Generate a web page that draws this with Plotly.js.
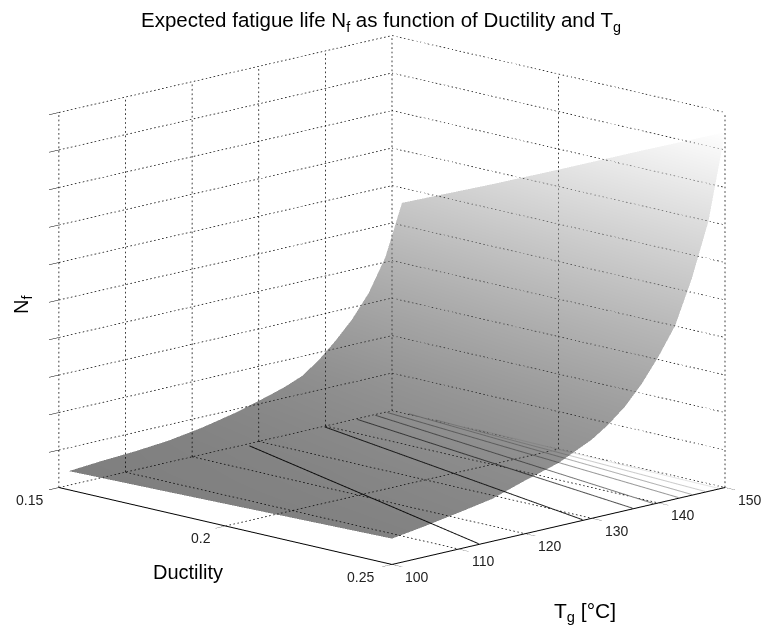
<!DOCTYPE html>
<html>
<head>
<meta charset="utf-8">
<script src="https://cdn.plot.ly/plotly-3.0.1.min.js"></script>
<style>html,body{margin:0;padding:0;background:#fff}#plot{width:762px;height:628px}</style>
</head>
<body>
<div id="plot"></div>
<script>
var tgValues = [100,105,110,115,120,125,130,132.5,135,137.5,140,142.5,145,147.5,150];
var ductilityValues = [0.153,0.18,0.2,0.225,0.25];
var nfAtD153 = [0.50,0.57,0.62,0.70,0.84,1.03,1.28,1.42,1.60,1.92,2.33,2.80,3.40,4.25,5.60];
var nfAtD180 = [0.55,0.64,0.71,0.81,0.99,1.20,1.50,1.68,1.91,2.28,2.76,3.24,4.00,5.02,6.65];
var nfAtD200 = [0.59,0.69,0.78,0.90,1.11,1.34,1.67,1.88,2.16,2.56,3.08,3.64,4.52,5.65,7.45];
var nfAtD225 = [0.64,0.75,0.88,1.02,1.27,1.51,1.88,2.14,2.47,2.90,3.49,4.13,5.15,6.40,8.47];
var nfAtD250 = [0.69,0.82,0.97,1.13,1.42,1.68,2.10,2.40,2.78,3.28,3.90,4.62,5.77,7.20,9.47];

var tgTicks = [100,110,120,130,140,150];
var ductilityTicks = [0.15,0.2,0.25];
var ductilityTickText = ['0.15','0.2','0.25'];
var nfTicks = [0,1,2,3,4,5,6,7,8,9,10];

var contourTgAtHighD = [113,128.6,136.1,139.2,143,145,147,149];
var contourTgAtLowD  = [127.6,139.4,144.3,147.0,148.8,150,150,150];
var contourLowD      = [0.152,0.151,0.151,0.151,0.151,0.155,0.163,0.175];
var contourGreys     = ['#111111','#222222','#555555','#777777','#999999','#b0b0b0','#cccccc','#e5e5e5'];

var gx = [], gy = [], gz = [];
var dotsPerEdge = 84, dotFill = 0.4;
function seg(a, b) {
  for (var k = 0; k < dotsPerEdge; k++) {
    var s = k / dotsPerEdge, e = (k + dotFill) / dotsPerEdge;
    gx.push(a[0]+(b[0]-a[0])*s, a[0]+(b[0]-a[0])*e, null);
    gy.push(a[1]+(b[1]-a[1])*s, a[1]+(b[1]-a[1])*e, null);
    gz.push(a[2]+(b[2]-a[2])*s, a[2]+(b[2]-a[2])*e, null);
  }
}
var xMin = tgTicks[0], xMax = tgTicks[tgTicks.length-1];
var yMin = ductilityTicks[0], yMax = ductilityTicks[ductilityTicks.length-1];
var zMin = nfTicks[0], zMax = nfTicks[nfTicks.length-1];
tgTicks.forEach(function(t){ seg([t,yMin,zMin],[t,yMin,zMax]); seg([t,yMin,zMin],[t,yMax,zMin]); });
ductilityTicks.forEach(function(d){ seg([xMax,d,zMin],[xMax,d,zMax]); seg([xMin,d,zMin],[xMax,d,zMin]); });
nfTicks.forEach(function(n){ seg([xMin,yMin,n],[xMax,yMin,n]); seg([xMax,yMin,n],[xMax,yMax,n]); });

var traces = [{
  type:'scatter3d', mode:'lines', x:gx, y:gy, z:gz,
  line:{color:'#000000', width:1.5},
  hoverinfo:'skip', showlegend:false, connectgaps:false
}];
contourTgAtHighD.forEach(function(t,i){
  traces.push({
    type:'scatter3d', mode:'lines',
    x:[contourTgAtLowD[i], t], y:[contourLowD[i], yMax], z:[0.02,0.02],
    line:{color:contourGreys[i], width:2},
    hoverinfo:'skip', showlegend:false
  });
});
traces.push({
  type:'surface', x:tgValues, y:ductilityValues,
  z:[nfAtD153,nfAtD180,nfAtD200,nfAtD225,nfAtD250],
  colorscale:[[0,'#000000'],[1,'#ffffff']], cmin:0.5, cmax:9.5,
  opacity:0.5, showscale:false, hoverinfo:'skip',
  lighting:{ambient:1,diffuse:0,specular:0,roughness:1,fresnel:0}
});

function axisBase() {
  return {
    showgrid:false, zeroline:false, showbackground:false, showspikes:false,
    showline:true, linecolor:'#000000', linewidth:2,
    ticks:'outside', ticklen:14, tickcolor:'#000000', tickwidth:1, showticklabels:false,
    title:{text:''}
  };
}
var xa = axisBase(); xa.range=[xMin,xMax]; xa.tickmode='array'; xa.tickvals=tgTicks;
var ya = axisBase(); ya.range=[yMax,yMin]; ya.tickmode='array'; ya.tickvals=ductilityTicks;
var za = axisBase(); za.range=[zMin,zMax]; za.tickmode='array'; za.tickvals=nfTicks; za.showline=false; za.ticklen=28;

var tickFont = {family:'Liberation Sans, Arial, sans-serif', size:14, color:'#222222'};
var tickNotes = [];
tgTicks.forEach(function(t){
  tickNotes.push({x:t,y:yMax,z:zMin,text:String(t),showarrow:false,xshift:25,yshift:-12,font:tickFont});
});
var ductilityShift = [-30,-25,-32];
ductilityTicks.forEach(function(d,i){
  tickNotes.push({x:xMin,y:d,z:zMin,text:ductilityTickText[i],showarrow:false,xshift:ductilityShift[i],yshift:-12,font:tickFont});
});

var layout = {
  width:762, height:628, paper_bgcolor:'#ffffff', showlegend:false,
  margin:{l:0,r:0,t:0,b:0},
  title:{text:'Expected fatigue life N<sub>f</sub> as function of Ductility and T<sub>g</sub>',
    font:{family:'Liberation Sans, Arial, sans-serif', size:20.5, color:'#000000'},
    x:0.5, xanchor:'center', y:0.968, yanchor:'middle'},
  scene:{
    domain:{x:[0.029,1.0],y:[0.044,1.0]},
    xaxis:xa, yaxis:ya, zaxis:za,
    aspectmode:'manual', aspectratio:{x:1.57,y:1.57,z:1.285},
    camera:{eye:{x:-1.4,y:-1.4,z:0.47}, center:{x:0,y:0,z:0}, up:{x:0,y:0,z:1}, projection:{type:'orthographic'}},
    annotations:tickNotes
  },
  annotations:[
    {xref:'paper',yref:'paper',x:188/762,y:1-572/628,xanchor:'center',yanchor:'middle',text:'Ductility',showarrow:false,font:{family:'Liberation Sans, Arial, sans-serif',size:20,color:'#000000'}},
    {xref:'paper',yref:'paper',x:585/762,y:1-612/628,xanchor:'center',yanchor:'middle',text:'T<sub>g</sub> [°C]',showarrow:false,font:{family:'Liberation Sans, Arial, sans-serif',size:21,color:'#000000'}},
    {xref:'paper',yref:'paper',x:23/762,y:1-305/628,xanchor:'center',yanchor:'middle',text:'N<sub>f</sub>',textangle:-90,showarrow:false,font:{family:'Liberation Sans, Arial, sans-serif',size:20,color:'#000000'}}
  ]
};
Plotly.newPlot('plot', traces, layout, {displayModeBar:false, scrollZoom:false});
</script>
</body>
</html>
